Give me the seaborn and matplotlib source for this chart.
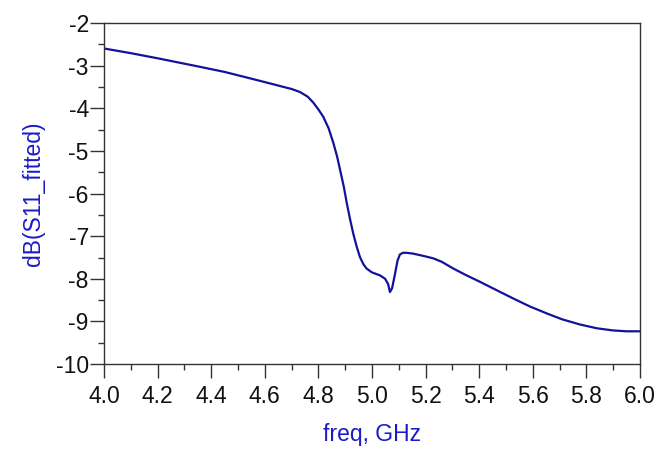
import numpy as np
import pandas as pd
import seaborn as sns
import matplotlib.pyplot as plt
from matplotlib.ticker import MultipleLocator

# values
freq = [4.000, 4.100, 4.200, 4.358, 4.450, 4.545, 4.620, 4.669, 4.700, 4.731,
        4.760, 4.781, 4.800, 4.818, 4.838, 4.856, 4.870, 4.881, 4.895, 4.906,
        4.918, 4.930, 4.943, 4.955, 4.968, 4.980, 5.000, 5.030, 5.049, 5.060,
        5.067, 5.075, 5.086, 5.095, 5.104, 5.115, 5.130, 5.154, 5.190, 5.229,
        5.260, 5.304, 5.350, 5.403, 5.460, 5.527, 5.590, 5.652, 5.710, 5.776,
        5.840, 5.900, 5.950, 6.000]
s11 = [-2.60, -2.71, -2.83, -3.03, -3.15, -3.30, -3.42, -3.50, -3.55, -3.62,
       -3.73, -3.87, -4.03, -4.20, -4.47, -4.82, -5.14, -5.45, -5.85, -6.23,
       -6.60, -6.94, -7.25, -7.49, -7.66, -7.76, -7.85, -7.92, -8.00, -8.12,
       -8.31, -8.22, -7.88, -7.58, -7.43, -7.39, -7.39, -7.41, -7.46, -7.52,
       -7.60, -7.76, -7.91, -8.07, -8.25, -8.46, -8.65, -8.81, -8.95, -9.07,
       -9.16, -9.21, -9.23, -9.23]

df = pd.DataFrame({"freq": freq, "s11": s11})

sns.set_style("ticks")
plt.rcParams['font.family'] = ['Liberation Sans', 'DejaVu Sans']
plt.rcParams['axes.unicode_minus'] = False

fig = plt.figure(figsize=(6.59, 4.49), dpi=100)
ax = fig.add_axes([0.158, 0.189, 0.813, 0.760])

sns.lineplot(data=df, x="freq", y="s11", ax=ax, color="#12129a", linewidth=1.6)

ax.set_xlim(4.0, 6.0)
ax.set_ylim(-10, -2)
ax.xaxis.set_major_locator(MultipleLocator(0.2))
ax.xaxis.set_minor_locator(MultipleLocator(0.1))
ax.yaxis.set_major_locator(MultipleLocator(1))
ax.yaxis.set_minor_locator(MultipleLocator(0.5))
ax.set_xticklabels([f"{v:.1f}" for v in ax.get_xticks()])

ax.tick_params(which="major", direction="out", length=10, width=1, labelsize=16.5,
               color="#333333", labelcolor="#111111")
ax.tick_params(axis="y", which="major", pad=1)
ax.tick_params(axis="x", which="major", pad=5)
ax.tick_params(which="minor", direction="out", length=4.5, width=1, color="#333333")
for sp in ax.spines.values():
    sp.set_color("#333333")
    sp.set_linewidth(1)

ax.set_xlabel("freq, GHz", color="#1a1ac8", fontsize=16.5, labelpad=11)
ax.set_ylabel("dB(S11_fitted)", color="#1a1ac8", fontsize=16.5, labelpad=8)

fig.savefig("out.png", dpi=100)
